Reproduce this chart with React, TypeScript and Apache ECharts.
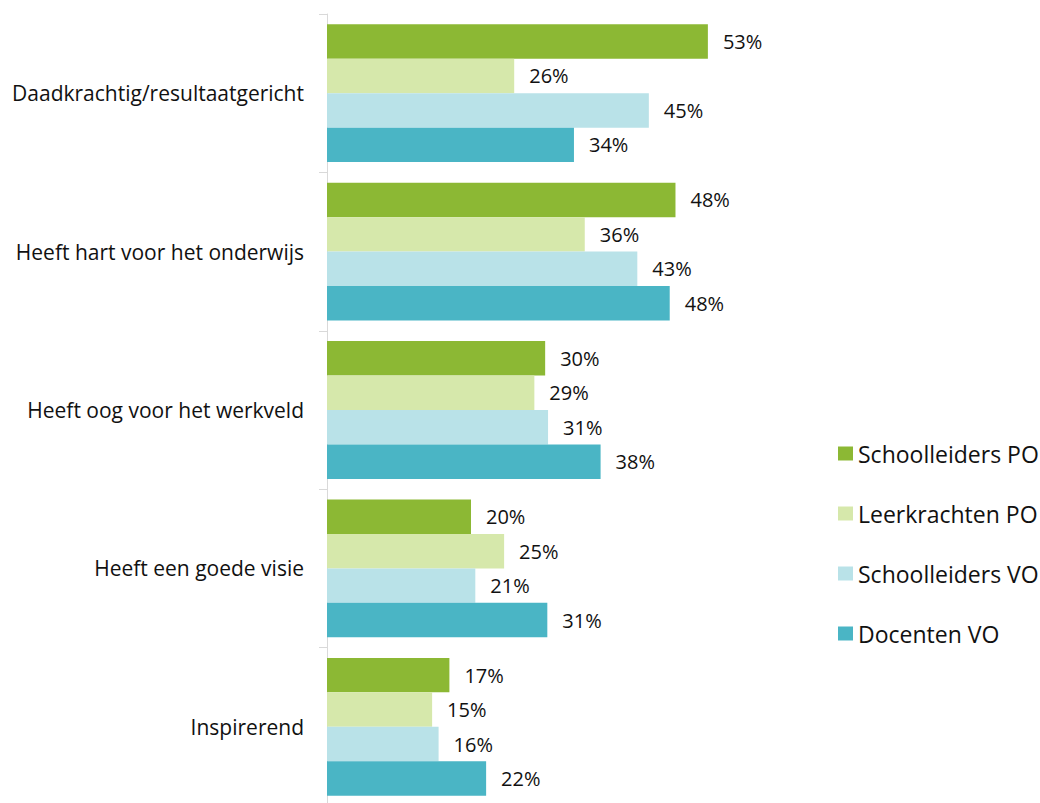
import React, { useEffect, useRef } from "react";
import * as echarts from "echarts";

const categories = [
  "Daadkrachtig/resultaatgericht",
  "Heeft hart voor het onderwijs",
  "Heeft oog voor het werkveld",
  "Heeft een goede visie",
  "Inspirerend",
];
const seriesNames = ["Schoolleiders PO", "Leerkrachten PO", "Schoolleiders VO", "Docenten VO"];
const schoolleidersPO = [52.9, 48.4, 30.3, 20.0, 17.0];
const leerkrachtenPO = [26.0, 35.8, 28.8, 24.6, 14.6];
const schoolleidersVO = [44.7, 43.1, 30.7, 20.6, 15.5];
const docentenVO = [34.3, 47.6, 38.0, 30.6, 22.1];
const colors = ["#8CB834", "#D6E8AB", "#B9E2E8", "#4AB5C5"];

const FONT = "'Open Sans', sans-serif";

export default function App() {
  const ref = useRef<HTMLDivElement>(null);
  useEffect(() => {
    if (!ref.current) return;
    const chart = echarts.init(ref.current, null, { renderer: "svg" });
    const data = [schoolleidersPO, leerkrachtenPO, schoolleidersVO, docentenVO];
    chart.setOption({
      animation: false,
      grid: { left: 327, right: 209, top: 14, bottom: 0, containLabel: false },
      legend: {
        orient: "vertical",
        left: 833,
        top: 437,
        itemWidth: 15,
        itemHeight: 14,
        itemGap: 37,
        icon: "rect",
        data: seriesNames,
        textStyle: { fontFamily: FONT, fontSize: 23, color: "#111", lineHeight: 23 },
      },
      xAxis: {
        type: "value",
        min: 0,
        max: 70,
        show: false,
        splitLine: { show: false },
      },
      yAxis: {
        type: "category",
        inverse: true,
        data: categories,
        axisLine: { show: true, lineStyle: { color: "#D9D9D9", width: 1 } },
        axisTick: { show: true, length: 8, lineStyle: { color: "#D9D9D9" } },
        axisLabel: { fontFamily: FONT, fontSize: 21, color: "#111", margin: 23 },
      },
      series: seriesNames.map((name, i) => ({
        name,
        type: "bar",
        data: data[i],
        barGap: "0%",
        barCategoryGap: "13%",
        itemStyle: { color: colors[i] },
        label: {
          show: true,
          position: "right",
          distance: 15,
          fontFamily: FONT,
          fontSize: 20,
          color: "#111",
          formatter: (p: any) => Math.round(p.value) + "%",
        },
      })),
    });
    return () => chart.dispose();
  }, []);
  return (
    <div
      ref={ref}
      style={{ position: "fixed", left: 0, top: 0, width: 1040, height: 806, background: "#fff" }}
    />
  );
}
